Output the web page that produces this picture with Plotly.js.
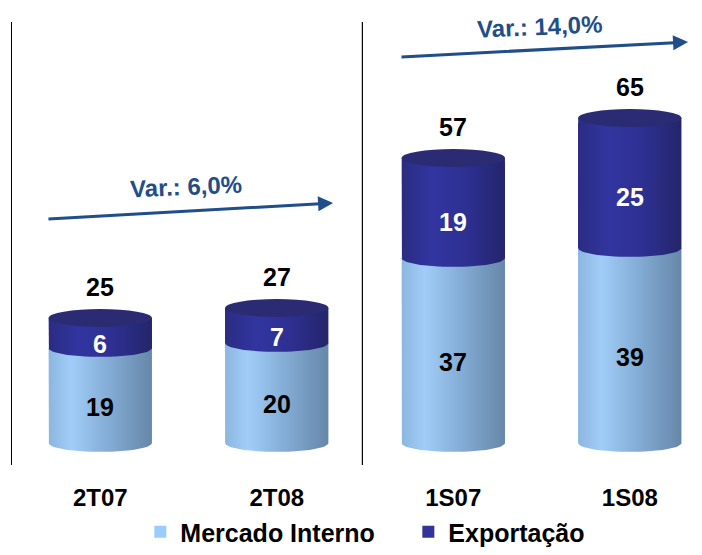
<!DOCTYPE html>
<html>
<head>
<meta charset="utf-8">
<script src="https://cdn.plot.ly/plotly-3.0.1.min.js"></script>
<style>
  html, body { margin: 0; padding: 0; background: #ffffff; }
  #chart { width: 702px; height: 555px; }
</style>
</head>
<body>
<div id="chart"></div>
<script>
// ---- data ----
const categories = ['2T07', '2T08', '1S07', '1S08'];
const mercadoInterno = [19, 20, 37, 39];
const exportacao = [6, 7, 19, 25];
const totals = [25, 27, 57, 65];
const seriesNames = ['Mercado Interno', 'Exportação'];
const variationLabels = ['Var.: 6,0%', 'Var.: 14,0%'];

// ---- style ----
const FONT = '"Liberation Sans", Arial, sans-serif';
const BAR_W = 0.585;
const HW = BAR_W / 2;
const RY = 1.8;              // half-height of the cylinder ellipses (y units)
const ARROW = '#1F4E89';
const lightScale = [[0, '#8DB6DF'], [0.22, '#A0CDF8'], [0.55, '#86AFD8'], [1, '#6687A9']];
const darkScale = [[0, '#2A2C82'], [0.3, '#3235A0'], [0.65, '#2D2F90'], [1, '#24256A']];
const idx = categories.map((c, i) => i);

// base bar traces (legend + data marks)
const traces = [
  { type: 'bar', name: seriesNames[0], x: idx, y: mercadoInterno, width: BAR_W,
    marker: { color: '#99CCFF', line: { width: 0 } }, hoverinfo: 'name+y' },
  { type: 'bar', name: seriesNames[1], x: idx, y: exportacao, width: BAR_W,
    marker: { color: '#333399', line: { width: 0 } }, hoverinfo: 'name+y' }
];

// cylinder shading overlays computed from the same data
function cylBody(i, base, top, scale) {
  const xs = [i - HW], ys = [top];
  const N = 32;
  for (let k = 0; k <= N; k++) {
    const t = Math.PI + Math.PI * k / N;
    xs.push(i + HW * Math.cos(t));
    ys.push(base + RY * Math.sin(t));
  }
  xs.push(i + HW); ys.push(top);
  xs.push(i - HW); ys.push(top);
  return { type: 'scatter', mode: 'lines', x: xs, y: ys, fill: 'toself',
    line: { width: 0, color: 'rgba(0,0,0,0)' },
    fillgradient: { type: 'horizontal', colorscale: scale },
    hoverinfo: 'skip', showlegend: false };
}
idx.forEach(i => traces.push(cylBody(i, 0, mercadoInterno[i], lightScale)));
idx.forEach(i => traces.push(cylBody(i, mercadoInterno[i], totals[i], darkScale)));

const shapes = idx.map(i => ({
  type: 'circle', xref: 'x', yref: 'y', layer: 'above',
  x0: i - HW, x1: i + HW, y0: totals[i] - RY, y1: totals[i] + RY,
  fillcolor: '#2B2B74', line: { width: 0 }
}));
shapes.push({ type: 'line', xref: 'x', yref: 'paper', x0: 1.485, x1: 1.485, y0: 0, y1: 1,
  line: { color: '#000000', width: 1.2 } });

const annotations = [];
idx.forEach(i => {
  annotations.push({ x: i, y: totals[i], xref: 'x', yref: 'y', text: String(totals[i]),
    showarrow: false, yshift: 31, font: { family: FONT, size: 25, color: '#000000', weight: 'bold' } });
  annotations.push({ x: i, y: mercadoInterno[i] / 2, xref: 'x', yref: 'y', text: String(mercadoInterno[i]),
    showarrow: false, yshift: -11, font: { family: FONT, size: 25, color: '#000000', weight: 'bold' } });
  annotations.push({ x: i, y: mercadoInterno[i] + exportacao[i] / 2, xref: 'x', yref: 'y', text: String(exportacao[i]),
    showarrow: false, yshift: -11, font: { family: FONT, size: 25, color: '#FFFFFF', weight: 'bold' } });
});
// variation arrows
annotations.push({ x: 1.319, y: 48.0, ax: -0.302, ay: 44.8, axref: 'x', ayref: 'y', xref: 'x', yref: 'y',
  text: '', showarrow: true, arrowhead: 2, arrowsize: 1, arrowwidth: 3, arrowcolor: ARROW });
annotations.push({ x: 3.330, y: 80.2, ax: 1.698, ay: 77.2, axref: 'x', ayref: 'y', xref: 'x', yref: 'y',
  text: '', showarrow: true, arrowhead: 2, arrowsize: 1, arrowwidth: 3, arrowcolor: ARROW });
annotations.push({ x: 0.486, y: 51.4, xref: 'x', yref: 'y', text: variationLabels[0], showarrow: false,
  textangle: -2.5, font: { family: FONT, size: 24, color: ARROW, weight: 'bold' } });
annotations.push({ x: 2.491, y: 83.4, xref: 'x', yref: 'y', text: variationLabels[1], showarrow: false,
  textangle: -2.5, font: { family: FONT, size: 24, color: ARROW, weight: 'bold' } });

const layout = {
  width: 702, height: 555,
  margin: { l: 12, r: 0, t: 22, b: 90, autoexpand: false },
  paper_bgcolor: '#ffffff', plot_bgcolor: '#ffffff',
  barmode: 'stack',
  showlegend: true,
  font: { family: FONT, color: '#000000' },
  xaxis: {
    range: [-0.5, 3.409], tickvals: idx, ticktext: categories,
    showgrid: false, zeroline: false, showline: false, automargin: false,
    ticks: 'outside', ticklen: 11, tickcolor: 'rgba(0,0,0,0)',
    tickfont: { family: FONT, size: 24, color: '#000000', weight: 'bold' },
    fixedrange: true
  },
  yaxis: {
    range: [-4.4, 84.2], showgrid: false, zeroline: false, automargin: false,
    showline: true, linecolor: '#000000', linewidth: 1.2,
    showticklabels: false, ticks: '', fixedrange: true
  },
  legend: {
    orientation: 'h', x: 0.186, xanchor: 'left',
    yref: 'container', y: 0, yanchor: 'bottom',
    entrywidth: 223, entrywidthmode: 'pixels', borderwidth: 0,
    font: { family: FONT, size: 25, color: '#000000', weight: 'bold' },
    traceorder: 'normal', bgcolor: 'rgba(0,0,0,0)'
  },
  shapes: shapes,
  annotations: annotations
};

Plotly.newPlot('chart', traces, layout, { displayModeBar: false, staticPlot: true });
</script>
</body>
</html>
